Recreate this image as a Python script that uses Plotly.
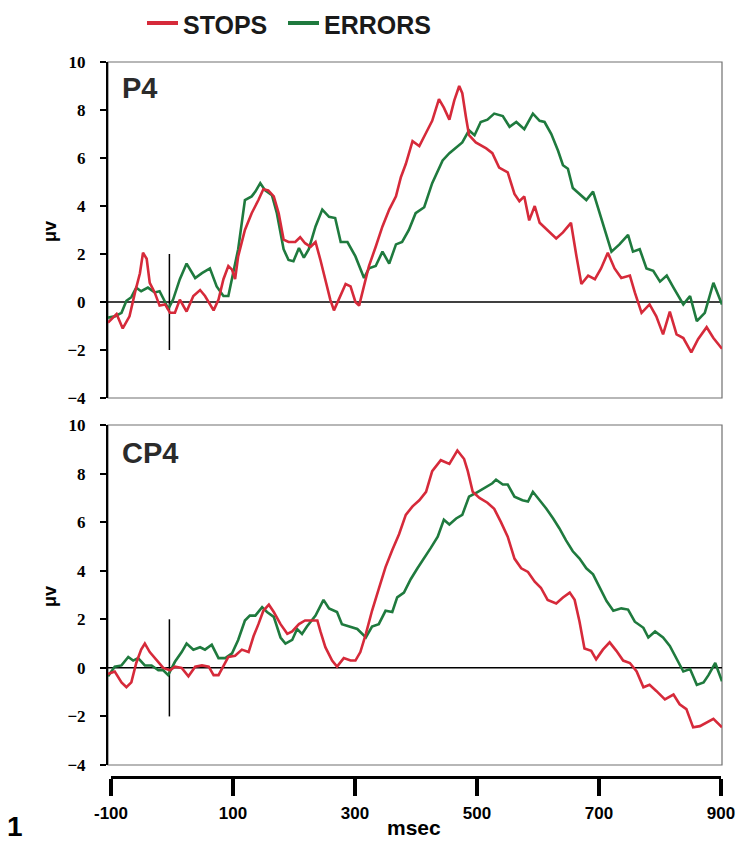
import plotly.graph_objects as go

W, H = 737, 842

# ---------------- data (ms, microvolts) ----------------
p4_stops_ms = [-100, -86, -76, -65, -56, -48, -43, -37, -32, -24, -16, -7, 1, 9, 17, 28, 39, 50, 58, 72,
               80, 88, 96, 102, 107, 112, 123, 134, 145, 153, 161, 170, 178, 186, 194, 205, 213, 221, 230, 238,
               246, 254, 262, 268, 276, 287, 295, 303, 309, 317, 325, 336, 347, 358, 369, 377, 385, 396, 407, 417,
               428, 439, 447, 456, 464, 472, 477, 483, 488, 499, 516, 526, 537, 551, 562, 570, 578, 586, 595, 603,
               616, 630, 641, 654, 663, 671, 682, 693, 703, 714, 725, 736, 750, 758, 769, 782, 793, 804, 815, 826,
               837, 850, 861, 875, 886, 900]
p4_stops_uv = [-0.86, -0.5, -1.1, -0.6, 0.4, 1.2, 2.05, 1.8, 0.8, 0.4, -0.15, -0.1, -0.45, -0.45, 0.1, -0.4, 0.25, 0.5, 0.25, -0.35,
               0.1, 0.95, 1.5, 1.35, 0.95, 1.9, 3.0, 3.7, 4.25, 4.7, 4.65, 4.4, 3.7, 2.6, 2.5, 2.5, 2.7, 2.45, 2.3, 2.5,
               1.75, 0.95, 0.1, -0.35, 0.1, 0.75, 0.65, 0.0, -0.15, 0.65, 1.5, 2.3, 3.15, 3.85, 4.4, 5.2, 5.75, 6.7, 6.5, 7.0,
               7.55, 8.45, 8.1, 7.6, 8.4, 9.0, 8.7, 7.7, 6.95, 6.65, 6.4, 6.2, 5.6, 5.4, 4.5, 4.2, 4.4, 3.4, 4.0, 3.3,
               3.0, 2.65, 2.9, 3.3, 1.9, 0.75, 1.1, 0.95, 1.4, 2.05, 1.4, 1.0, 1.1, 0.4, -0.45, -0.1, -0.6, -1.35, -0.4, -1.35,
               -1.5, -2.1, -1.55, -1.05, -1.5, -1.95]

p4_errors_ms = [-100, -89, -78, -70, -62, -54, -46, -35, -24, -16, -7, -2, 6, 17, 28, 42, 53, 66, 77, 88,
                96, 104, 112, 123, 134, 140, 148, 156, 167, 175, 186, 194, 202, 211, 219, 227, 238, 249, 260, 270,
                279, 290, 303, 317, 325, 336, 347, 358, 369, 379, 390, 401, 415, 428, 445, 456, 467, 477, 488, 497,
                507, 518, 529, 543, 554, 565, 578, 592, 603, 611, 622, 633, 641, 649, 657, 668, 679, 690, 701, 709,
                720, 733, 747, 755, 766, 777, 788, 799, 810, 821, 837, 848, 859, 872, 886, 900]
p4_errors_uv = [-0.65, -0.6, -0.45, 0.05, 0.2, 0.6, 0.45, 0.6, 0.4, 0.45, 0.0, -0.3, 0.1, 0.95, 1.6, 1.0, 1.2, 1.4, 0.65, 0.25,
                0.25, 1.2, 2.2, 4.25, 4.4, 4.6, 4.95, 4.65, 4.45, 3.7, 2.2, 1.75, 1.7, 2.25, 1.85, 2.2, 3.15, 3.85, 3.55, 3.5,
                2.5, 2.5, 1.9, 1.0, 1.4, 1.5, 2.1, 1.6, 2.4, 2.5, 3.0, 3.7, 3.95, 4.95, 5.9, 6.2, 6.45, 6.65, 7.15, 6.95,
                7.5, 7.6, 7.85, 7.75, 7.3, 7.5, 7.2, 7.85, 7.55, 7.5, 7.0, 6.3, 5.7, 5.55, 4.75, 4.5, 4.25, 4.6, 3.7, 2.95,
                2.1, 2.4, 2.8, 2.1, 2.2, 1.4, 1.3, 0.85, 1.1, 0.6, -0.1, 0.25, -0.8, -0.45, 0.8, -0.1]

cp4_stops_ms = [-100, -89, -78, -70, -62, -54, -46, -40, -32, -21, -10, 1, 9, 20, 31, 42, 53, 64, 72, 80,
                88, 96, 107, 118, 129, 137, 145, 153, 162, 170, 181, 192, 200, 211, 221, 232, 241, 246, 254, 265,
                273, 284, 295, 303, 311, 320, 330, 341, 352, 363, 374, 385, 396, 407, 418, 428, 442, 456, 469, 480,
                486, 494, 505, 518, 529, 540, 551, 562, 573, 584, 595, 605, 616, 630, 641, 652, 660, 668, 676, 687,
                695, 706, 717, 728, 739, 750, 761, 772, 782, 793, 807, 821, 831, 842, 853, 864, 875, 886, 900]
cp4_stops_uv = [-0.25, -0.15, -0.6, -0.8, -0.6, 0.2, 0.75, 1.0, 0.65, 0.3, 0.0, -0.1, 0.05, 0.0, -0.35, 0.05, 0.1, 0.05, -0.3, -0.3,
                0.05, 0.45, 0.5, 0.75, 0.65, 1.3, 1.8, 2.35, 2.6, 2.3, 1.8, 1.4, 1.5, 1.8, 1.95, 1.95, 1.95, 1.5, 0.85, 0.3,
                0.05, 0.4, 0.3, 0.3, 0.65, 1.4, 2.35, 3.25, 4.15, 4.85, 5.5, 6.3, 6.65, 6.9, 7.25, 8.1, 8.55, 8.4, 8.95, 8.6,
                8.1, 7.25, 7.0, 6.8, 6.55, 6.0, 5.4, 4.5, 4.1, 3.95, 3.55, 3.3, 2.8, 2.65, 2.9, 3.1, 2.8, 1.9, 0.8, 0.7,
                0.35, 0.75, 1.05, 0.7, 0.3, 0.2, -0.15, -0.8, -0.7, -0.95, -1.3, -1.1, -1.5, -1.7, -2.45, -2.4, -2.25, -2.1, -2.45]

cp4_errors_ms = [-100, -89, -78, -67, -59, -51, -40, -29, -18, -10, -2, 9, 20, 28, 39, 50, 58, 69, 80, 91,
                 102, 112, 123, 131, 140, 151, 159, 170, 181, 189, 200, 208, 216, 224, 238, 251, 260, 273, 281, 295,
                 306, 320, 330, 341, 352, 363, 371, 382, 393, 404, 412, 426, 437, 447, 456, 467, 477, 488, 499, 513,
                 526, 532, 543, 551, 562, 575, 584, 592, 603, 614, 625, 635, 646, 657, 668, 679, 690, 701, 712, 723,
                 736, 747, 758, 772, 780, 791, 804, 815, 826, 837, 848, 859, 870, 878, 889, 900]
cp4_errors_uv = [-0.35, 0.05, 0.1, 0.45, 0.3, 0.4, 0.1, 0.1, -0.1, -0.1, -0.3, 0.25, 0.65, 1.0, 0.75, 0.85, 0.75, 0.95, 0.4, 0.4,
                 0.6, 1.15, 1.95, 2.15, 2.15, 2.5, 2.3, 2.1, 1.25, 1.0, 1.15, 1.6, 1.4, 1.7, 2.15, 2.8, 2.45, 2.3, 1.8, 1.7,
                 1.6, 1.25, 1.7, 1.8, 2.35, 2.3, 2.9, 3.1, 3.65, 4.1, 4.4, 4.95, 5.4, 6.1, 5.9, 6.15, 6.3, 7.05, 7.2, 7.4,
                 7.6, 7.75, 7.55, 7.55, 7.05, 6.9, 6.85, 7.25, 6.9, 6.55, 6.15, 5.75, 5.25, 4.8, 4.5, 4.1, 3.85, 3.3, 2.75, 2.35,
                 2.45, 2.4, 1.9, 1.65, 1.25, 1.5, 1.25, 0.9, 0.4, -0.15, -0.05, -0.7, -0.6, -0.3, 0.2, -0.55]

series_names = ["STOPS", "ERRORS"]
panel_labels = ["P4", "CP4"]
y_ticks = [-4, -2, 0, 2, 4, 6, 8, 10]
x_ticks = [-100, 100, 300, 500, 700, 900]
x_title = "msec"
y_title = "μv"
figure_number = "1"

RED = "#d62a3a"
GREEN = "#1f7a3e"


def px_x(px):
    return px / W


def px_y(py):
    return 1 - py / H


fig = go.Figure()

panels = [
    ("x", "y", p4_stops_ms, p4_stops_uv, p4_errors_ms, p4_errors_uv),
    ("x2", "y2", cp4_stops_ms, cp4_stops_uv, cp4_errors_ms, cp4_errors_uv),
]
for xa, ya, sx, sy, ex, ey in panels:
    fig.add_trace(go.Scatter(x=ex, y=ey, xaxis=xa, yaxis=ya, mode="lines",
                             line=dict(color=GREEN, width=2.6), name=series_names[1],
                             showlegend=False))
    fig.add_trace(go.Scatter(x=sx, y=sy, xaxis=xa, yaxis=ya, mode="lines",
                             line=dict(color=RED, width=2.6), name=series_names[0],
                             showlegend=False))

# dummy trace for the time ruler axis
fig.add_trace(go.Scatter(x=[None], y=[None], xaxis="x3", yaxis="y3", showlegend=False,
                         hoverinfo="skip"))

panel_x_domain = [px_x(108), px_x(722)]
top_dom = [px_y(398), px_y(62)]
bot_dom = [px_y(765), px_y(425)]

ytick_font = dict(family="Liberation Serif, Times New Roman, serif", size=17, color="black", weight="bold")

yaxis_common = dict(range=[-4, 10], tickvals=y_ticks, ticks="outside", ticklen=6, tickwidth=2,
                    tickcolor="black", showline=True, linewidth=2, linecolor="black",
                    tickfont=ytick_font, showgrid=False, zeroline=False, automargin=False,
                    ticklabelstandoff=11, fixedrange=True)
xaxis_common = dict(range=[-100, 900], showline=False, showticklabels=False, ticks="",
                    showgrid=False, zeroline=False, automargin=False, fixedrange=True)

fig.update_layout(
    width=W, height=H,
    margin=dict(l=0, r=0, t=0, b=0),
    paper_bgcolor="white", plot_bgcolor="white",
    template="none",
    showlegend=False,
    xaxis=dict(domain=panel_x_domain, anchor="y", **xaxis_common),
    yaxis=dict(domain=top_dom, anchor="x", **yaxis_common),
    xaxis2=dict(domain=panel_x_domain, anchor="y2", **xaxis_common),
    yaxis2=dict(domain=bot_dom, anchor="x2", **yaxis_common),
    xaxis3=dict(domain=[px_x(111), px_x(721)], anchor="y3", range=[-100, 900],
                tickvals=x_ticks, ticktext=[str(v) for v in x_ticks],
                ticks="outside", ticklen=17, tickwidth=4, tickcolor="black",
                showline=True, linewidth=3, linecolor="black",
                tickfont=dict(family="Liberation Sans, Arial, sans-serif", size=17,
                              color="black", weight="bold"),
                ticklabelstandoff=3,
                showgrid=False, zeroline=False, automargin=False, fixedrange=True),
    yaxis3=dict(domain=[px_y(776), px_y(770)], anchor="x3", range=[0, 1], visible=False,
                fixedrange=True),
)

shapes = []
for xa, ya in [("x", "y"), ("x2", "y2")]:
    # thin frame
    shapes.append(dict(type="rect", xref=f"{xa} domain", yref=f"{ya} domain",
                       x0=0, x1=1, y0=0, y1=1, line=dict(color="#707070", width=1.2),
                       layer="below"))
    # zero line
    shapes.append(dict(type="line", xref=xa, yref=ya, x0=-100, x1=900, y0=0, y1=0,
                       line=dict(color="black", width=1.5), layer="below"))
    # stimulus marker
    shapes.append(dict(type="line", xref=xa, yref=ya, x0=0, x1=0, y0=-2, y1=2,
                       line=dict(color="black", width=1.5), layer="below"))

# legend samples
shapes.append(dict(type="line", xref="paper", yref="paper", x0=px_x(147), x1=px_x(178),
                   y0=px_y(23), y1=px_y(23), line=dict(color=RED, width=4)))
shapes.append(dict(type="line", xref="paper", yref="paper", x0=px_x(288), x1=px_x(319),
                   y0=px_y(23), y1=px_y(23), line=dict(color=GREEN, width=4)))

legend_font = dict(family="Liberation Sans, Arial, sans-serif",
                   size=25, color="#1a1a1a", weight="bold")
annotations = [
    dict(text=series_names[0], xref="paper", yref="paper", x=px_x(181), y=px_y(25),
         xanchor="left", yanchor="middle", showarrow=False, font=legend_font),
    dict(text=series_names[1], xref="paper", yref="paper", x=px_x(322), y=px_y(25),
         xanchor="left", yanchor="middle", showarrow=False, font=legend_font),
]

label_font = dict(family="Liberation Sans, Arial, sans-serif", size=29, color="#2b2b2b", weight="bold")
annotations.append(dict(text=panel_labels[0], xref="paper", yref="paper", x=px_x(120), y=px_y(88),
                        xanchor="left", yanchor="middle", showarrow=False, font=label_font))
annotations.append(dict(text=panel_labels[1], xref="paper", yref="paper", x=px_x(120), y=px_y(453),
                        xanchor="left", yanchor="middle", showarrow=False, font=label_font))

ytitle_font = dict(family="Liberation Sans, Arial, sans-serif", size=18, color="black", weight="bold")
for cy in (232, 597):
    annotations.append(dict(text=y_title, xref="paper", yref="paper", x=px_x(50), y=px_y(cy),
                            xanchor="center", yanchor="middle", textangle=-90, showarrow=False,
                            font=ytitle_font))

annotations.append(dict(text=x_title, xref="paper", yref="paper", x=px_x(414), y=px_y(827),
                        xanchor="center", yanchor="middle", showarrow=False,
                        font=dict(family="Liberation Sans, Arial, sans-serif", size=21,
                                  color="black", weight="bold")))
annotations.append(dict(text=figure_number, xref="paper", yref="paper", x=px_x(15), y=px_y(826),
                        xanchor="center", yanchor="middle", showarrow=False,
                        font=dict(family="Liberation Sans, Arial, sans-serif", size=28,
                                  color="black", weight="bold")))

fig.update_layout(shapes=shapes, annotations=annotations)

fig.write_html("out.html",
               config={"displayModeBar": False},
               post_script="document.body.style.margin='0';document.body.style.padding='0';"
                           "document.documentElement.style.overflow='hidden';")
